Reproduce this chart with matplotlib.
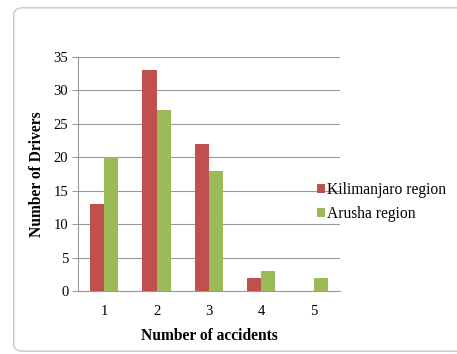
import matplotlib.pyplot as plt
import numpy as np
from matplotlib.patches import FancyBboxPatch

accidents = ["1", "2", "3", "4", "5"]
kilimanjaro = [13, 33, 22, 2, 0]
arusha = [20, 27, 18, 3, 2]
series_names = ["Kilimanjaro region", "Arusha region"]

plt.rcParams["font.family"] = ["Liberation Serif", "DejaVu Serif"]

fig = plt.figure(figsize=(4.57, 3.54), dpi=100)
fig.patch.set_facecolor("white")

# rounded chart-area border, running off the right edge
frame = FancyBboxPatch((0.03, 0.008), 0.99, 0.97,
                       boxstyle="round,pad=0,rounding_size=0.02",
                       transform=fig.transFigure, facecolor="none",
                       edgecolor="#c8c8c8", linewidth=1.0, zorder=0)
fig.patches.append(frame)

ax = fig.add_axes([0.1707, 0.178, 0.573, 0.661])
ax.patch.set_alpha(0)
x = np.arange(len(accidents))
w = 0.27
ax.bar(x - w / 2, kilimanjaro, w, color="#C0504D", label=series_names[0], zorder=3)
ax.bar(x + w / 2, arusha, w, color="#9BBB59", label=series_names[1], zorder=3)

ax.set_xlim(-0.5, len(accidents) - 0.5)
ax.set_ylim(0, 35)
ax.set_yticks(range(0, 36, 5))
ax.set_xticks(x)
ax.set_xticklabels(accidents)
ax.yaxis.grid(True, color="#999999", linewidth=0.8, zorder=0)
ax.set_axisbelow(True)

for side in ["top", "right"]:
    ax.spines[side].set_visible(False)
ax.spines["left"].set_color("#999999")
ax.spines["bottom"].set_color("#999999")
ax.tick_params(axis="y", length=4, color="#999999", labelsize=10.5, pad=3)
ax.tick_params(axis="x", length=0, labelsize=10.5, pad=10)

ax.set_xlabel("Number of accidents", fontsize=11.2, fontweight="bold", labelpad=7)
ax.set_ylabel("Number of Drivers", fontsize=11.2, fontweight="bold", labelpad=6)

ax.legend(loc="center left", bbox_to_anchor=(0.89, 0.38), frameon=False,
          fontsize=11.2, handlelength=0.5, handleheight=0.5, handletextpad=0.15,
          labelspacing=0.55, borderaxespad=0)

fig.savefig("out.png", dpi=100)
